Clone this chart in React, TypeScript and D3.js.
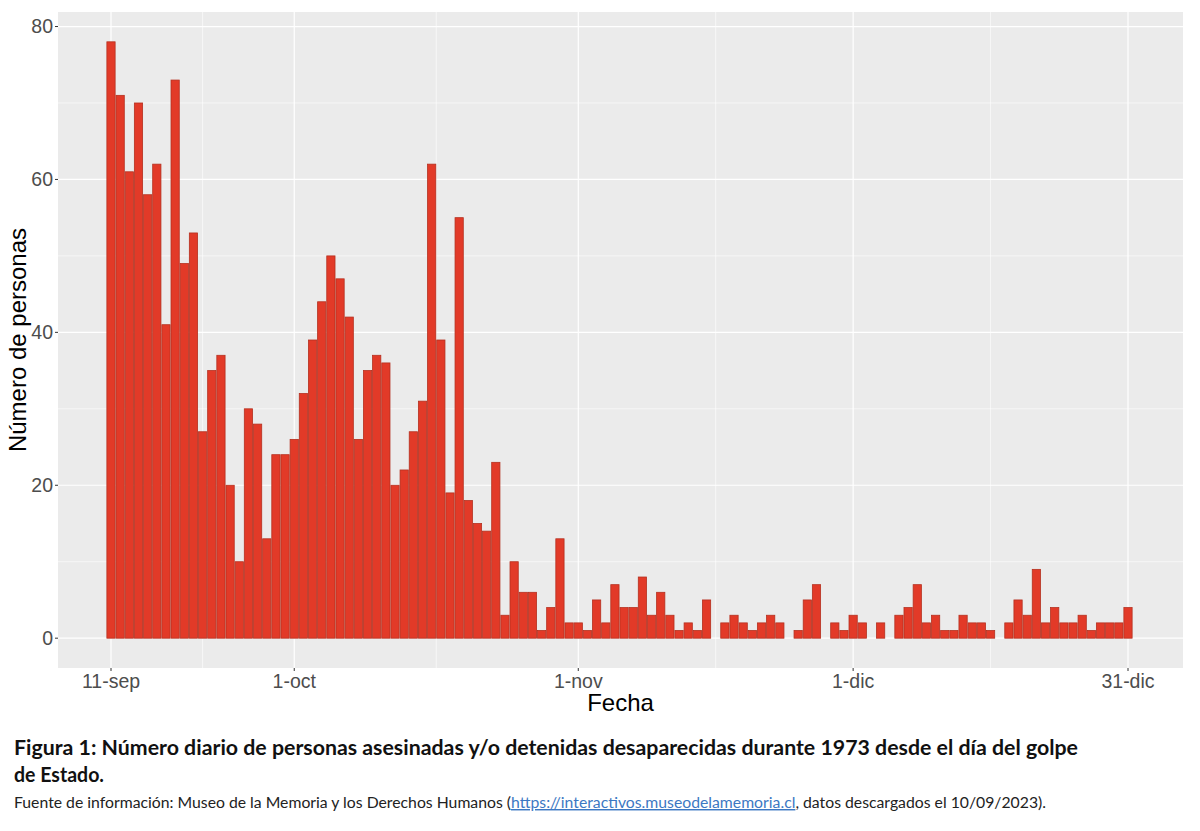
import * as d3 from 'd3';
import React, { useRef, useEffect } from 'react';

// daily counts from 11-sep-1973 to 31-dic-1973 (one value per day)
const startDate = new Date(1973, 8, 11);
const sepCounts = [78, 71, 61, 70, 58, 62, 41, 73, 49, 53, 27, 35, 37, 20, 10, 30, 28, 13, 24, 24];
const octCounts = [26, 32, 39, 44, 50, 47, 42, 26, 35, 37, 36, 20, 22, 27, 31, 62, 39, 19, 55, 18,
  15, 14, 23, 3, 10, 6, 6, 1, 4, 13, 2];
const novCounts = [2, 1, 5, 2, 7, 4, 4, 8, 3, 6, 3, 1, 2, 1, 5, 0, 2, 3, 2, 1,
  2, 3, 2, 0, 1, 5, 7, 0, 2, 1];
const dicCounts = [3, 2, 0, 2, 0, 3, 4, 7, 2, 3, 1, 1, 3, 2, 2, 1, 0, 2, 5, 3,
  9, 2, 4, 2, 2, 3, 1, 2, 2, 2, 4];

const tickDates = [new Date(1973, 8, 11), new Date(1973, 9, 1), new Date(1973, 10, 1), new Date(1973, 11, 1), new Date(1973, 11, 31)];
const tickLabels = ['11-sep', '1-oct', '1-nov', '1-dic', '31-dic'];
const yTicks = [0, 20, 40, 60, 80];
const yMinor = [10, 30, 50, 70];

const titleLine1 = 'Figura 1: Número diario de personas asesinadas  y/o detenidas desaparecidas  durante 1973 desde el día del golpe';
const titleLine2 = 'de Estado.';

const App: React.FC = () => {
  const ref = useRef<SVGSVGElement>(null);

  useEffect(() => {
    const counts = [...sepCounts, ...octCounts, ...novCounts, ...dicCounts];
    const data = counts.map((v, i) => ({ date: d3.timeDay.offset(startDate, i), value: v }));

    const svg = d3.select(ref.current);
    svg.selectAll('*').remove();

    const panel = { left: 58, right: 1183, top: 12, bottom: 668 };

    const x = d3.scaleTime()
      .domain([tickDates[0], tickDates[tickDates.length - 1]])
      .range([111, 1128]);
    const dayW = x(d3.timeDay.offset(startDate, 1)) - x(startDate);

    const yMax = d3.max(counts) as number;
    const y = d3.scaleLinear()
      .domain([-0.05 * yMax, yMax * 1.05])
      .range([panel.bottom, panel.top]);

    svg.append('rect')
      .attr('width', 1200).attr('height', 831).attr('fill', '#ffffff');

    const g = svg.append('g');
    g.append('rect')
      .attr('x', panel.left).attr('y', panel.top)
      .attr('width', panel.right - panel.left).attr('height', panel.bottom - panel.top)
      .attr('fill', '#EBEBEB');

    // minor gridlines
    const xMinor = d3.pairs(tickDates).map(([a, b]) => new Date((a.getTime() + b.getTime()) / 2));
    g.selectAll('.xminor').data(xMinor).enter().append('line')
      .attr('x1', d => x(d)).attr('x2', d => x(d))
      .attr('y1', panel.top).attr('y2', panel.bottom)
      .attr('stroke', '#ffffff').attr('stroke-width', 0.6);
    g.selectAll('.yminor').data(yMinor).enter().append('line')
      .attr('x1', panel.left).attr('x2', panel.right)
      .attr('y1', d => y(d)).attr('y2', d => y(d))
      .attr('stroke', '#ffffff').attr('stroke-width', 0.6);

    // major gridlines
    g.selectAll('.xmajor').data(tickDates).enter().append('line')
      .attr('x1', d => x(d)).attr('x2', d => x(d))
      .attr('y1', panel.top).attr('y2', panel.bottom)
      .attr('stroke', '#ffffff').attr('stroke-width', 1.2);
    g.selectAll('.ymajor').data(yTicks).enter().append('line')
      .attr('x1', panel.left).attr('x2', panel.right)
      .attr('y1', d => y(d)).attr('y2', d => y(d))
      .attr('stroke', '#ffffff').attr('stroke-width', 1.2);

    // bars
    const bw = dayW * 0.9;
    g.selectAll('.bar').data(data.filter(d => d.value > 0)).enter().append('rect')
      .attr('x', d => x(d.date) - bw / 2)
      .attr('y', d => y(d.value))
      .attr('width', bw)
      .attr('height', d => y(0) - y(d.value))
      .attr('fill', '#E23A28')
      .attr('stroke', '#B5301F')
      .attr('stroke-width', 0.8);

    // axes
    const font = '"Liberation Sans", Arial, sans-serif';
    const yAxis = g.append('g');
    yAxis.selectAll('line').data(yTicks).enter().append('line')
      .attr('x1', panel.left - 3).attr('x2', panel.left)
      .attr('y1', d => y(d)).attr('y2', d => y(d))
      .attr('stroke', '#333333').attr('stroke-width', 1);
    yAxis.selectAll('text').data(yTicks).enter().append('text')
      .attr('x', panel.left - 5).attr('y', d => y(d))
      .attr('dy', '0.35em').attr('text-anchor', 'end')
      .attr('font-family', font).attr('font-size', 19.5).attr('fill', '#4D4D4D')
      .text(d => d);

    const xAxis = g.append('g');
    xAxis.selectAll('line').data(tickDates).enter().append('line')
      .attr('x1', d => x(d)).attr('x2', d => x(d))
      .attr('y1', panel.bottom).attr('y2', panel.bottom + 3)
      .attr('stroke', '#333333').attr('stroke-width', 1);
    xAxis.selectAll('text').data(tickDates).enter().append('text')
      .attr('x', d => x(d)).attr('y', panel.bottom + 20)
      .attr('text-anchor', 'middle')
      .attr('font-family', font).attr('font-size', 19.5).attr('fill', '#4D4D4D')
      .text((d, i) => tickLabels[i]);

    g.append('text')
      .attr('x', (panel.left + panel.right) / 2).attr('y', 711)
      .attr('text-anchor', 'middle')
      .attr('font-family', font).attr('font-size', 24).attr('fill', '#000000')
      .text('Fecha');
    g.append('text')
      .attr('transform', `translate(26,${(panel.top + panel.bottom) / 2}) rotate(-90)`)
      .attr('text-anchor', 'middle')
      .attr('font-family', font).attr('font-size', 24).attr('fill', '#000000')
      .text('Número de personas');

    // caption
    const capFont = 'Lato, "Open Sans", sans-serif';
    svg.append('text')
      .attr('x', 14).attr('y', 755)
      .attr('font-family', capFont).attr('font-weight', 'bold').attr('font-size', 20.5)
      .attr('textLength', 1064).attr('lengthAdjust', 'spacingAndGlyphs')
      .attr('fill', '#111111')
      .text(titleLine1);
    svg.append('text')
      .attr('x', 14).attr('y', 782)
      .attr('font-family', capFont).attr('font-weight', 'bold').attr('font-size', 20.5)
      .attr('textLength', 90).attr('lengthAdjust', 'spacingAndGlyphs')
      .attr('fill', '#111111')
      .text(titleLine2);

    const src = svg.append('text')
      .attr('x', 14).attr('y', 808)
      .attr('font-family', capFont).attr('font-size', 14.5)
      .attr('textLength', 1032).attr('lengthAdjust', 'spacingAndGlyphs')
      .attr('fill', '#222222');
    src.append('tspan').text('Fuente de información: Museo de la Memoria  y los Derechos Humanos (');
    src.append('tspan').attr('fill', '#3C78C3').attr('text-decoration', 'underline')
      .text('https://interactivos.museodelamemoria.cl');
    src.append('tspan').text(',  datos descargados el 10/09/2023).');
  }, []);

  return (
    <svg ref={ref} width={1200} height={831}
      style={{ position: 'absolute', left: 0, top: 0, display: 'block' }} />
  );
};

export default App;
